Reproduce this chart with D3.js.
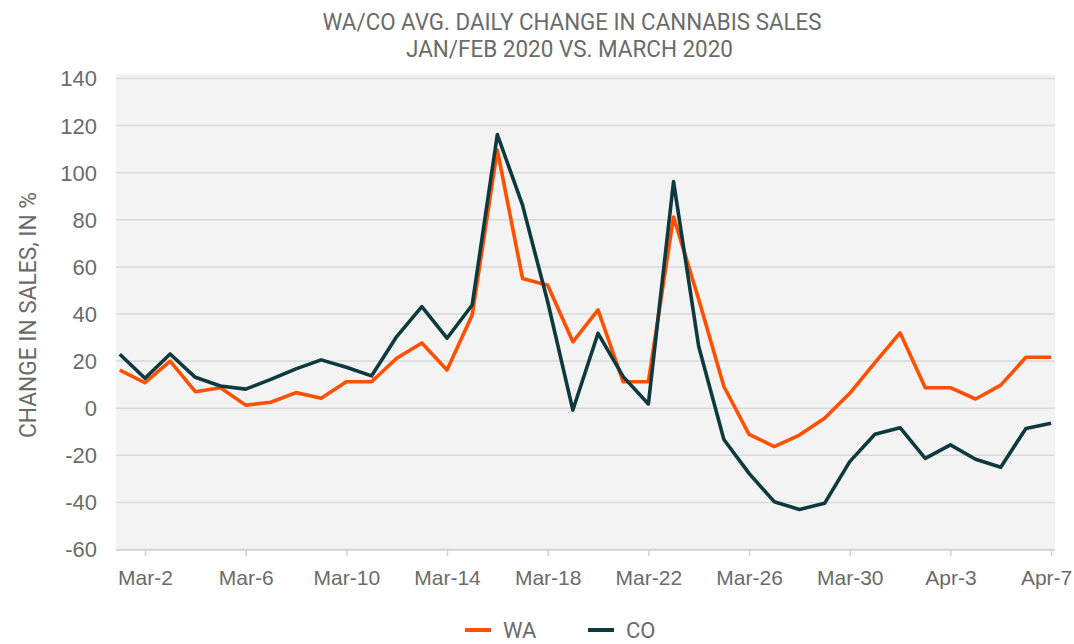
<!DOCTYPE html>
<html>
<head>
<meta charset="utf-8">
<script src="https://cdn.jsdelivr.net/npm/d3@7"></script>
<style>
  body { margin: 0; background: #fff; }
  svg { display: block; font-family: Roboto, "Liberation Sans", sans-serif; }
</style>
</head>
<body>
<svg id="chart" width="1074" height="644"></svg>
<script>
// daily values, Mar-1 .. Apr-7 2020
const start_date = Date.UTC(2020, 2, 1);
const num_days = 38;
const wa_values = [16, 10.6, 19.8, 6.8, 8.5, 1.1, 2.3, 6.4, 4, 11, 11, 21, 27.5,
                   16, 39.4, 109.4, 54.9, 52, 28, 41.5, 11, 11, 81, 46, 9,
                   -11.3, -16.5, -11.6, -4.5, 6.1, 19.1, 31.8, 8.5, 8.5, 3.7, 9.6, 21.4, 21.4];
const co_values = [22.7, 12.5, 22.8, 12.9, 9.2, 7.9, 12, 16.5, 20.3, 17.2, 13.5, 30.2, 42.9,
                   29.5, 43.6, 116, 86, 45, -1, 31.6, 13.2, 1.6, 96, 26, -13.5,
                   -27.9, -39.9, -43.2, -40.6, -22.9, -11.3, -8.5, -21.5, -15.8, -21.9, -25.3, -8.8, -6.6];
const y_ticks = [-60, -40, -20, 0, 20, 40, 60, 80, 100, 120, 140];
const series = [
    {name: 'WA', values: wa_values, color: '#ff5000'},
    {name: 'CO', values: co_values, color: '#0e3a3e'}
];
const title_lines = ['WA/CO AVG. DAILY CHANGE IN CANNABIS SALES', 'JAN/FEB 2020 VS. MARCH 2020'];
const y_label = 'CHANGE IN SALES, IN %';

const dates = d3.range(num_days).map(i => new Date(start_date + i * 864e5));
const x_ticks = dates.filter((d, i) => i % 4 == 1);

const svg = d3.select('#chart');
const plot = {left: 116, right: 1055, top: 74, bottom: 549};
const text_color = '#6b6b6b';

var x = d3.scaleUtc().domain([dates[0], dates[num_days - 1]]).range([119.8, 1051.1]);
var y = d3.scaleLinear().domain([-60, 140]).range([549, 78]);

// plot background
svg.append('rect')
    .attr('x', plot.left).attr('y', plot.top)
    .attr('width', plot.right - plot.left).attr('height', plot.bottom - plot.top)
    .attr('fill', '#f3f3f3');

// gridlines + y labels (plain hyphen for negatives, like the original)
const yaxis = svg.append('g').attr('transform', `translate(${plot.left},0)`)
    .call(d3.axisLeft(y).tickValues(y_ticks).tickFormat(d => String(d))
        .tickSize(-(plot.right - plot.left)).tickPadding(19));
yaxis.select('.domain').remove();
yaxis.selectAll('.tick line').attr('stroke', '#d9d9d9').attr('stroke-width', 1.5);
yaxis.selectAll('.tick text').attr('fill', text_color).style('font-size', '22px').attr('dy', '0.36em');

// x axis
const xaxis = svg.append('g').attr('transform', `translate(0,${plot.bottom + 1})`)
    .call(d3.axisBottom(x).tickValues(x_ticks).tickFormat(d3.utcFormat('%b-%-d')).tickSize(6).tickPadding(14).tickSizeOuter(0));
xaxis.select('.domain').attr('stroke', '#d2d2d2').attr('stroke-width', 1.5)
    .attr('d', `M${plot.left},0H${plot.right}`);
xaxis.selectAll('.tick line').attr('stroke', '#d2d2d2').attr('stroke-width', 1.5);
xaxis.selectAll('.tick text').attr('fill', text_color).style('font-size', '21px');
// last label sits a bit left of its tick so it stays inside the frame
xaxis.selectAll('.tick text').filter((d, i, n) => i == n.length - 1).attr('x', -5);

// lines
const line = d3.line().x((d, i) => x(dates[i])).y(d => y(d));
svg.append('g').selectAll('path').data(series).enter().append('path')
    .attr('d', d => line(d.values))
    .attr('fill', 'none')
    .attr('stroke', d => d.color)
    .attr('stroke-width', 3.6)
    .attr('stroke-linejoin', 'round');

// title
svg.append('text').attr('x', 572).attr('y', 29.5).attr('text-anchor', 'middle')
    .attr('fill', text_color).style('font-size', '23px')
    .attr('textLength', 499).attr('lengthAdjust', 'spacingAndGlyphs')
    .text(title_lines[0]);
svg.append('text').attr('x', 569.5).attr('y', 57).attr('text-anchor', 'middle')
    .attr('fill', text_color).style('font-size', '23px')
    .attr('textLength', 327).attr('lengthAdjust', 'spacingAndGlyphs')
    .text(title_lines[1]);

// y label
svg.append('text').attr('transform', 'translate(36,315) rotate(-90)').attr('text-anchor', 'middle')
    .attr('fill', text_color).style('font-size', '23px')
    .attr('textLength', 246).attr('lengthAdjust', 'spacingAndGlyphs')
    .text(y_label);

// legend
const legend_x = [465, 588];
const legend = svg.append('g').selectAll('g').data(series).enter().append('g')
    .attr('transform', (d, i) => `translate(${legend_x[i]},630)`);
legend.append('line').attr('x1', 0).attr('x2', 26).attr('y1', 0).attr('y2', 0)
    .attr('stroke', d => d.color).attr('stroke-width', 4);
legend.append('text').attr('x', 38).attr('y', 8).attr('fill', text_color)
    .style('font-size', '22px').text(d => d.name);
</script>
</body>
</html>
